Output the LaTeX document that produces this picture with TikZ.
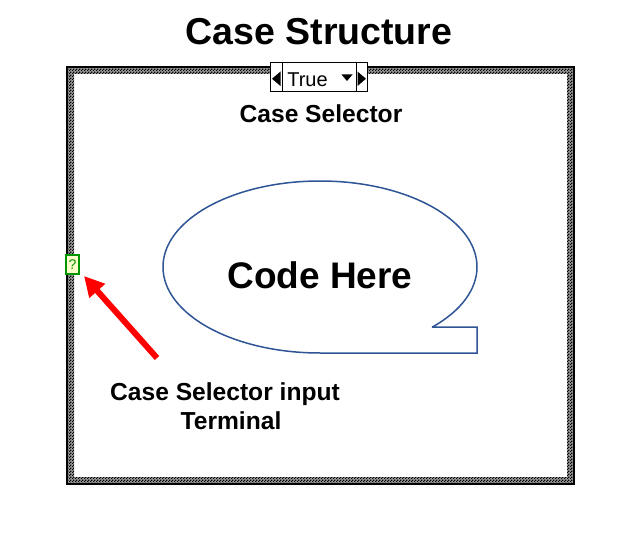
\documentclass[tikz,border=0pt]{standalone}
\usepackage{fontspec}
\setmainfont{Liberation Sans}
\usetikzlibrary{patterns.meta,arrows.meta}
\definecolor{bubbleblue}{RGB}{47,85,151}
\definecolor{termgreen}{RGB}{0,150,0}
\definecolor{termfill}{RGB}{255,255,204}
\pgfdeclarepattern{
  name=finechecker,
  type=uncolored,
  bottom left={\pgfpointorigin},
  top right={\pgfpoint{3pt}{3pt}},
  tile size={\pgfpoint{3pt}{3pt}},
  code={
    \pgfpathrectangle{\pgfpointorigin}{\pgfpoint{1.5pt}{1.5pt}}
    \pgfpathrectangle{\pgfpoint{1.5pt}{1.5pt}}{\pgfpoint{1.5pt}{1.5pt}}
    \pgfusepath{fill}
  }
}
\tikzset{
  bigtitle/.style={font=\bfseries\fontsize{37.5}{42}\selectfont, anchor=base, inner sep=0pt},
  label24/.style={font=\bfseries\fontsize{24.6}{29}\selectfont, anchor=base, inner sep=0pt},
  codetext/.style={font=\bfseries\fontsize{37}{42}\selectfont, anchor=base, inner sep=0pt},
  bubble/.style={draw=bubbleblue, line width=1.5pt, fill=white},
  selbox/.style={draw=black, line width=1pt, fill=white},
  redarrow/.style={draw=red, line width=6pt, -{Triangle[length=20pt,width=20pt]}},
}
\begin{document}
\begin{tikzpicture}[x=1pt,y=-1pt]
\useasboundingbox (0,0) rectangle (637,545);
\fill[white] (0,0) rectangle (637,545);
% frame
\fill[black!40, even odd rule]
  (67,67) rectangle (574,484) (74,74) rectangle (567,477);
\fill[pattern=finechecker, pattern color=black, even odd rule]
  (67,67) rectangle (574,484) (74,74) rectangle (567,477);
\draw[line width=2pt] (67,67) rectangle (574,484);
% title
\node[bigtitle] (title) at (319,45) {Case Structure};
% case selector
\draw[selbox] (270,63) rectangle (367,92);
\draw[line width=0.8pt] (282,63) -- (282,92) (356,63) -- (356,92);
\fill (280.5,71.5) -- (280.5,86) -- (272,78.75) -- cycle;
\fill (357.5,71.5) -- (357.5,86) -- (366,78.75) -- cycle;
\fill (341.5,74.5) -- (352.5,74.5) -- (347,81) -- cycle;
\node[font=\fontsize{20}{22}\selectfont, anchor=base, inner sep=0pt] (truelabel) at (307.5,86.5) {True};
\node[label24] (sellabel) at (321,123) {Case Selector};
% bubble
\draw[bubble] (432,327) -- (477,327) -- (477,353) -- (320,353)
  arc[start angle=90, end angle=404.2, x radius=157, y radius=86] -- cycle;
\node[codetext] (code) at (320,288) {Code Here};
% terminal
\node[draw=termgreen, fill=termfill, line width=1.2pt, minimum width=13pt, minimum height=19pt,
  inner sep=0pt, text=termgreen, font=\fontsize{14}{15}\selectfont] (term) at (72.5,264.5) {?};
% arrow
\coordinate (arrowtail) at (157,358);
\coordinate (arrowtip) at (84,276);
\draw[redarrow] (arrowtail) -- (arrowtip);
\node[label24] (inlabel1) at (225,400) {Case Selector input};
\node[label24] (inlabel2) at (231,429) {Terminal};
\end{tikzpicture}
\end{document}
